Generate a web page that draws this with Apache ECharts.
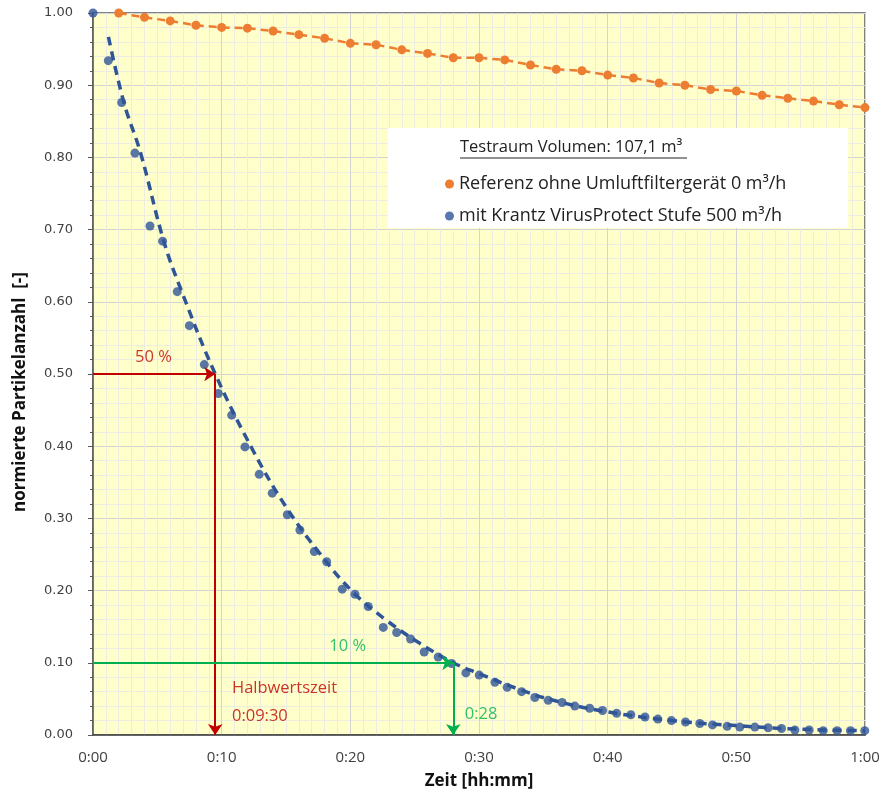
<!DOCTYPE html>
<html>
<head>
<meta charset="utf-8">
<script src="https://cdn.jsdelivr.net/npm/echarts@6/dist/echarts.min.js"></script>
<style>
  html, body { margin: 0; padding: 0; background: #fff; }
  #chart { width: 883px; height: 799px; }
</style>
</head>
<body>
<div id="chart"></div>
<script>
// Zeit in Minuten
const orangeTime = [2, 4, 6, 8, 10, 12, 14, 16, 18, 20, 22, 24, 26, 28, 30, 32, 34, 36, 38, 40, 42, 44, 46, 48, 50, 52, 54, 56, 58, 60];
const orangeValue = [1.000, 0.994, 0.989, 0.983, 0.980, 0.979, 0.975, 0.970, 0.965, 0.958, 0.956, 0.949, 0.944, 0.938, 0.938, 0.935, 0.928, 0.922, 0.920, 0.914, 0.910, 0.903, 0.900, 0.894, 0.892, 0.886, 0.882, 0.878, 0.873, 0.869];

const blueTime = [0, 1.19, 2.23, 3.26, 4.43, 5.41, 6.55, 7.49, 8.65, 9.74, 10.78, 11.81, 12.92, 13.93, 15.10, 16.08, 17.20, 18.16, 19.37, 20.36, 21.39, 22.56, 23.60, 24.68, 25.74, 26.83, 27.87, 28.98, 30.02, 31.24, 32.19, 33.31, 34.34, 35.38, 36.46, 37.45, 38.60, 39.60, 40.70, 41.80, 42.90, 43.90, 44.96, 46.05, 47.16, 48.15, 49.29, 50.27, 51.44, 52.47, 53.51, 54.55, 55.66, 56.75, 57.83, 58.87, 59.98];
const blueValue = [1.000, 0.934, 0.876, 0.806, 0.705, 0.684, 0.614, 0.567, 0.513, 0.473, 0.443, 0.399, 0.361, 0.335, 0.305, 0.284, 0.254, 0.240, 0.202, 0.195, 0.178, 0.149, 0.142, 0.133, 0.115, 0.108, 0.099, 0.086, 0.083, 0.073, 0.066, 0.060, 0.052, 0.048, 0.045, 0.040, 0.037, 0.034, 0.030, 0.028, 0.025, 0.022, 0.020, 0.018, 0.016, 0.014, 0.012, 0.011, 0.011, 0.010, 0.009, 0.007, 0.007, 0.006, 0.006, 0.006, 0.006];

// Trendlinie
const trendTime = [1.2, 2.4, 3.7, 5.5, 6.9, 9.5, 12.5, 15.0, 17.6, 20.2, 22.8, 25.4, 28.0, 30.0, 33.0, 36.0, 40.0, 45.0, 50.0, 55.0, 60.0];
const trendValue = [0.967, 0.876, 0.806, 0.684, 0.614, 0.500, 0.392, 0.316, 0.252, 0.198, 0.159, 0.127, 0.100, 0.085, 0.064, 0.047, 0.032, 0.020, 0.013, 0.008, 0.006];

const halfTime = 9.5;   // 0:09:30
const tenTime = 28;     // 0:28

const seriesNames = ['Referenz ohne Umluftfiltergerät 0 m³/h', 'mit Krantz VirusProtect Stufe 500 m³/h'];
const legendTitle = 'Testraum Volumen: 107,1 m³';

const red = '#C00000';
const green = '#00B050';
const orange = '#ED7D31';
const blue = '#2F5597';
const calibri = "'Open Sans', 'Liberation Sans', sans-serif";

const zip = (a, b) => a.map((v, i) => [v, b[i]]);
const fmtTime = v => Math.floor(v / 60) + ':' + String(Math.round(v % 60)).padStart(2, '0');

const chart = echarts.init(document.getElementById('chart'));

const option = {
  animation: false,
  backgroundColor: '#fff',
  grid: {
    left: 93, right: 18, top: 13, bottom: 64,
    show: true,
    backgroundColor: '#FFFFCC',
    borderColor: '#595959',
    borderWidth: 1.5
  },
  legend: {
    data: seriesNames,
    orient: 'vertical',
    left: 440,
    top: 168,
    icon: 'circle',
    itemWidth: 9,
    itemHeight: 9,
    itemGap: 10,
    z: 20,
    textStyle: { fontFamily: calibri, fontSize: 18, color: '#222', lineHeight: 22 }
  },
  graphic: [
    { type: 'rect', z: 15, shape: { x: 388, y: 128, width: 460, height: 100 }, style: { fill: '#fff' } },
    { type: 'text', z: 16, x: 460, y: 147, style: { text: legendTitle, fill: '#222', font: "16.5px 'Open Sans', sans-serif", textVerticalAlign: 'middle' } },
    { type: 'line', z: 16, shape: { x1: 460, y1: 158, x2: 687, y2: 158 }, style: { stroke: '#222', lineWidth: 1 } }
  ],
  xAxis: {
    type: 'value',
    min: 0, max: 60, interval: 10,
    name: 'Zeit [hh:mm]',
    nameLocation: 'middle',
    nameGap: 38,
    nameTextStyle: { fontFamily: calibri, fontWeight: 'bold', fontSize: 17, color: '#111' },
    axisLine: { show: true, onZero: false, lineStyle: { color: '#404040', width: 1.5 } },
    axisTick: { show: false },
    minorTick: { show: false, splitNumber: 10 },
    axisLabel: { formatter: fmtTime, margin: 15, fontFamily: calibri, fontSize: 15, color: '#404040' },
    splitLine: { show: true, lineStyle: { color: '#D4D4D4', width: 1 } },
    minorSplitLine: { show: true, lineStyle: { color: '#ECECE0', width: 1 } }
  },
  yAxis: {
    type: 'value',
    min: 0, max: 1, interval: 0.1,
    name: 'normierte Partikelanzahl  [-]',
    nameLocation: 'middle',
    nameGap: 64,
    nameTextStyle: { fontFamily: calibri, fontWeight: 'bold', fontSize: 17, color: '#111', padding: [0, 36, 0, 0] },
    axisLine: { show: true, lineStyle: { color: '#595959', width: 1.5 } },
    axisTick: { show: true, length: 5, lineStyle: { color: '#595959' } },
    minorTick: { show: true, splitNumber: 5, length: 3, lineStyle: { color: '#595959' } },
    axisLabel: { formatter: v => v.toFixed(2), margin: 20, fontFamily: "'DejaVu Sans', sans-serif", fontSize: 13, color: '#404040' },
    splitLine: { show: true, lineStyle: { color: '#D4D4D4', width: 1 } },
    minorSplitLine: { show: true, lineStyle: { color: '#ECECE0', width: 1 } }
  },
  series: [
    {
      name: seriesNames[0],
      type: 'line',
      data: zip(orangeTime, orangeValue),
      symbol: 'circle',
      symbolSize: 9,
      itemStyle: { color: orange },
      lineStyle: { color: orange, width: 2.5, type: [8, 5] },
      z: 3
    },
    {
      name: seriesNames[1],
      type: 'scatter',
      data: zip(blueTime, blueValue),
      symbol: 'circle',
      symbolSize: 9,
      itemStyle: { color: blue },
      z: 3
    },
    {
      name: 'Trend',
      type: 'line',
      data: zip(trendTime, trendValue),
      smooth: 0.4,
      showSymbol: false,
      lineStyle: { color: blue, width: 3.5, type: [9, 6] },
      z: 4
    },
    {
      name: 'Pfeile',
      type: 'lines',
      coordinateSystem: 'cartesian2d',
      symbol: ['none', 'arrow'],
      symbolSize: [0, 11],
      z: 5,
      data: [
        { coords: [[0, 0.5], [halfTime, 0.5]], lineStyle: { color: red } },
        { coords: [[halfTime, 0.5], [halfTime, 0]], lineStyle: { color: red } },
        { coords: [[0, 0.1], [tenTime, 0.1]], lineStyle: { color: green } },
        { coords: [[tenTime, 0.1], [tenTime, 0]], lineStyle: { color: green } }
      ],
      lineStyle: { width: 2, opacity: 1, curveness: 0 }
    },
    {
      name: 'Beschriftung',
      type: 'scatter',
      symbolSize: 0,
      z: 6,
      silent: true,
      data: [
        { value: [4.7, 0.5, '50 %'], label: { color: red, position: 'top', distance: 8 } },
        { value: [19.8, 0.1, '10 %'], label: { color: green, position: 'top', distance: 8 } },
        { value: [10.8, 0.065, 'Halbwertszeit'], label: { color: red, position: 'right' } },
        { value: [10.8, 0.026, '0:09:30'], label: { color: red, position: 'right' } },
        { value: [28.9, 0.029, '0:28'], label: { color: green, position: 'right' } }
      ],
      label: {
        show: true,
        formatter: p => p.value[2],
        fontFamily: calibri,
        fontSize: 16.5,
        distance: 0
      }
    }
  ]
};

chart.setOption(option);
</script>
</body>
</html>
